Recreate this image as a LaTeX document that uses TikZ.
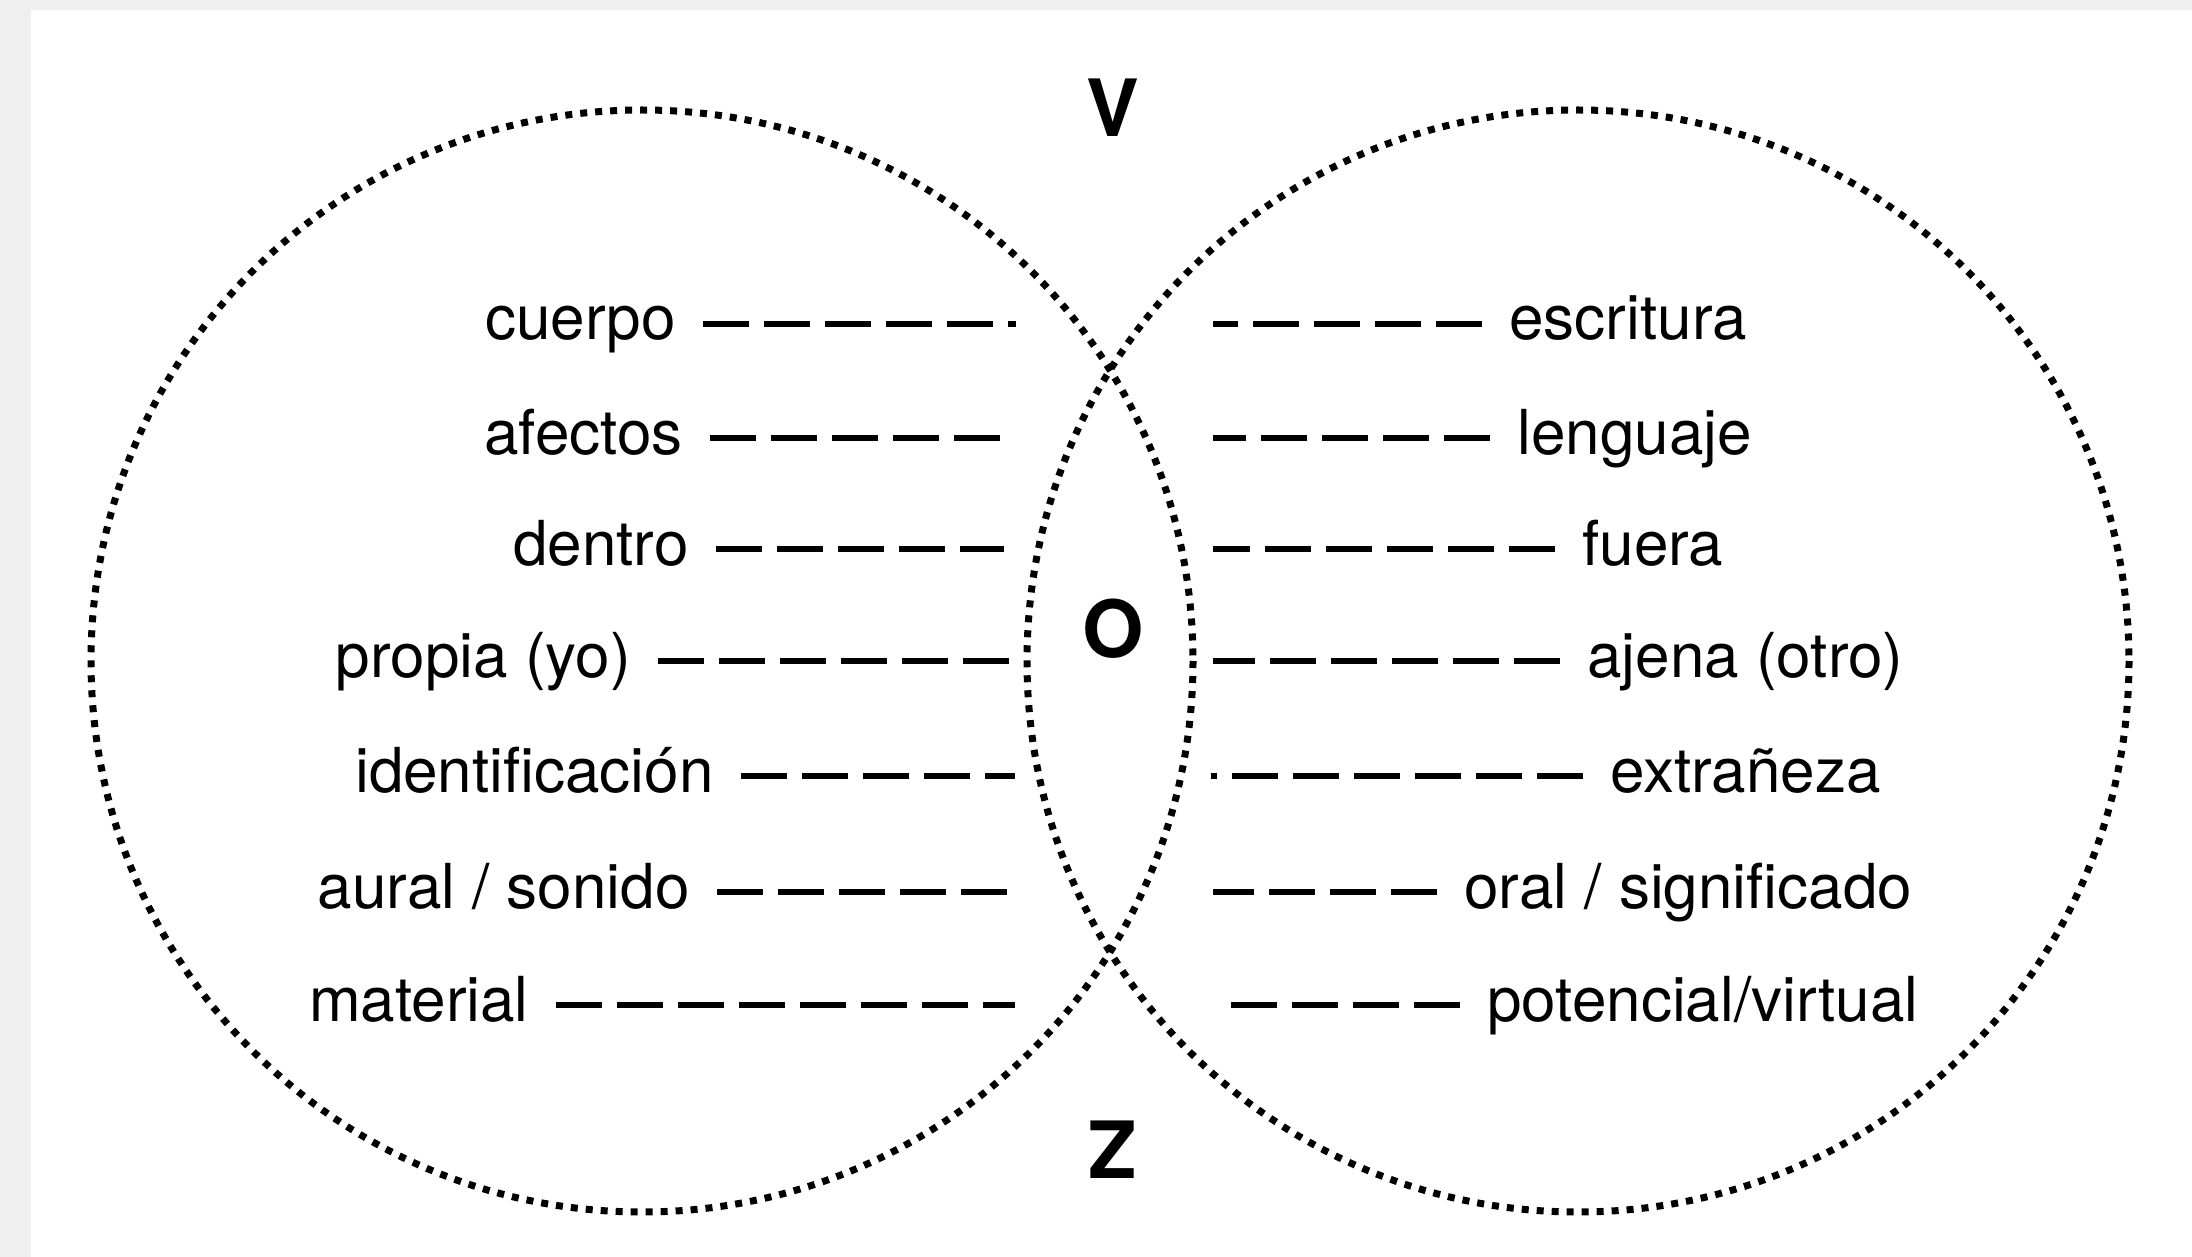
\documentclass[tikz,border=0pt]{standalone}
\usepackage{fontspec}
\setmainfont{TeX Gyre Heros}
\definecolor{vPaper}{HTML}{EFEFEF}

\begin{document}
\begin{tikzpicture}[x=0.5pt,y=-0.5pt,
  ring/.style={line width=3.5pt, dash pattern=on 3.5pt off 4pt},
  lbl/.style={inner xsep=13.5pt, inner ysep=0pt, font=\fontsize{31}{36}\selectfont},
  dashline/.style={line width=3.4pt, dash pattern=on 23pt off 7.5pt},
  letra/.style={inner sep=0pt, anchor=base, font=\fontsize{39.5}{44}\selectfont\bfseries}]
  \fill[vPaper] (0,0) rectangle (2192,1257);
  \fill[white] (31,10) rectangle (2192,1257);
  \useasboundingbox (0,0) rectangle (2192,1257);
  \draw[ring] (642,661) circle (551);
  \draw[ring] (1578,661) circle (551);
  \node[letra] (v) at (1113,137) {V};
  \node[letra] (o) at (1113,657) {O};
  \node[letra] (z) at (1113,1178) {Z};
  % left side
  \node[lbl, anchor=base east] (cuerpo) at (703,340) {cuerpo};
  \coordinate (cuerpo-end) at (1016,324);
  \draw[dashline] (cuerpo.east |- cuerpo-end) -- (cuerpo-end);
  \node[lbl, anchor=base east] (afectos) at (710,454) {afectos};
  \coordinate (afectos-end) at (1001,438);
  \draw[dashline] (afectos.east |- afectos-end) -- (afectos-end);
  \node[lbl, anchor=base east] (dentro) at (716,565) {dentro};
  \coordinate (dentro-end) at (1004,549);
  \draw[dashline] (dentro.east |- dentro-end) -- (dentro-end);
  \node[lbl, anchor=base east] (propia) at (658,677) {propia (yo)};
  \coordinate (propia-end) at (1009,661);
  \draw[dashline] (propia.east |- propia-end) -- (propia-end);
  \node[lbl, anchor=base east] (ident) at (741,792) {identificación};
  \coordinate (ident-end) at (1015,776);
  \draw[dashline] (ident.east |- ident-end) -- (ident-end);
  \node[lbl, anchor=base east] (aural) at (717,908) {aural / sonido};
  \coordinate (aural-end) at (1007,892);
  \draw[dashline] (aural.east |- aural-end) -- (aural-end);
  \node[lbl, anchor=base east] (material) at (556,1021) {material};
  \coordinate (material-end) at (1015,1005);
  \draw[dashline] (material.east |- material-end) -- (material-end);
  % right side
  \node[lbl, anchor=base west] (escritura) at (1482,340) {escritura};
  \coordinate (escritura-end) at (1213,324);
  \draw[dashline] (escritura.west |- escritura-end) -- (escritura-end);
  \node[lbl, anchor=base west] (lenguaje) at (1490,454) {lenguaje};
  \coordinate (lenguaje-end) at (1213,438);
  \draw[dashline] (lenguaje.west |- lenguaje-end) -- (lenguaje-end);
  \node[lbl, anchor=base west] (fuera) at (1555,565) {fuera};
  \coordinate (fuera-end) at (1213,549);
  \draw[dashline] (fuera.west |- fuera-end) -- (fuera-end);
  \node[lbl, anchor=base west] (ajena) at (1560,677) {ajena (otro)};
  \coordinate (ajena-end) at (1213,661);
  \draw[dashline] (ajena.west |- ajena-end) -- (ajena-end);
  \node[lbl, anchor=base west] (extraneza) at (1583,792) {extrañeza};
  \coordinate (extraneza-end) at (1211,776);
  \draw[dashline] (extraneza.west |- extraneza-end) -- (extraneza-end);
  \node[lbl, anchor=base west] (oral) at (1437,908) {oral / significado};
  \coordinate (oral-end) at (1213,892);
  \draw[dashline] (oral.west |- oral-end) -- (oral-end);
  \node[lbl, anchor=base west] (potencial) at (1460,1021) {potencial/virtual};
  \coordinate (potencial-end) at (1227,1005);
  \draw[dashline] (potencial.west |- potencial-end) -- (potencial-end);
\end{tikzpicture}
\end{document}
